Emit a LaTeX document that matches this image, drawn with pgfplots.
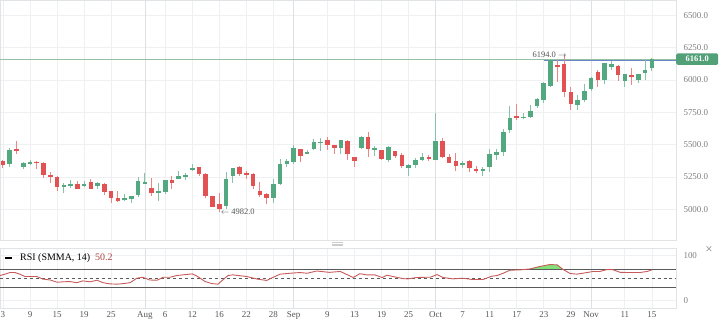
\documentclass[border=0pt]{standalone}
\usepackage{fontspec}
\setmainfont{Liberation Serif}
\usepackage{pgfplots}
\usepackage{pgfplotstable}
\pgfplotsset{compat=1.18}
\definecolor{cup}{RGB}{83,168,128}
\definecolor{cdn}{RGB}{226,82,82}
\definecolor{gridc}{RGB}{238,240,242}
\definecolor{gridm}{RGB}{222,225,228}
\definecolor{framec}{RGB}{225,228,231}
\definecolor{tickc}{RGB}{128,128,128}
\definecolor{dayc}{RGB}{85,85,85}
\definecolor{pricebox}{RGB}{82,160,120}
\definecolor{pricel}{RGB}{150,192,162}
\definecolor{bluel}{RGB}{105,135,200}
\definecolor{rsic}{RGB}{200,90,90}
\definecolor{rsiv}{RGB}{176,64,62}
\definecolor{rsig}{RGB}{130,225,120}
\definecolor{lvl}{RGB}{90,90,90}

\pgfplotstableread{
x o h l c
1 5347 5471 5329 5458
3 5324 5368 5309 5355
4 5352 5379 5344 5368
9 5172 5200 5123 5185
10 5180 5226 5166 5198
12 5180 5221 5174 5195
14 5180 5210 5159 5200
18 5071 5115 5063 5087
19 5079 5105 5050 5100
20 5108 5252 5097 5218
21 5200 5283 5193 5213
23 5131 5200 5063 5141
24 5133 5226 5115 5226
26 5234 5293 5234 5260
27 5252 5283 5226 5262
28 5303 5347 5293 5316
33 5025 5290 5000 5234
34 5260 5317 5200 5317
40 5090 5234 5050 5193
41 5197 5389 5187 5350
42 5352 5389 5327 5373
43 5363 5497 5352 5471
45 5430 5461 5425 5443
46 5466 5543 5458 5520
47 5515 5549 5453 5523
50 5471 5538 5430 5533
53 5476 5567 5464 5556
55 5461 5487 5414 5471
57 5383 5487 5368 5484
60 5319 5347 5260 5342
61 5340 5394 5321 5381
62 5379 5433 5371 5404
64 5381 5745 5381 5526
68 5342 5376 5317 5360
71 5298 5329 5260 5311
72 5329 5464 5290 5425
73 5420 5466 5381 5445
74 5443 5621 5412 5595
75 5613 5799 5588 5708
77 5708 5742 5698 5716
78 5716 5806 5708 5762
79 5799 5858 5781 5853
80 5845 5982 5820 5974
81 5954 6160 5948 6155
85 5806 5884 5768 5845
86 5845 5969 5827 5915
87 5930 6026 5917 6013
89 6000 6129 5967 6129
90 6103 6147 6077 6124
92 5992 6044 5948 6044
94 6000 6044 5974 6044
95 6057 6163 6000 6077
96 6090 6168 6070 6161
}\up

\pgfplotstableread{
x o h l c
0 5373 5381 5319 5340
2 5466 5528 5425 5456
5 5365 5371 5309 5360
6 5360 5365 5244 5262
7 5265 5286 5205 5252
8 5252 5255 5143 5174
11 5193 5218 5159 5159
13 5210 5231 5159 5159
15 5193 5200 5110 5133
16 5143 5143 5050 5089
17 5087 5143 5056 5063
22 5164 5239 5102 5123
25 5226 5254 5159 5205
29 5327 5327 5255 5272
30 5272 5280 5089 5102
31 5102 5102 5015 5019
32 5040 5128 4982 5000
35 5324 5337 5260 5272
36 5283 5293 5234 5270
37 5275 5283 5156 5182
38 5141 5208 5094 5110
39 5115 5123 5038 5084
44 5466 5466 5368 5414
48 5536 5559 5456 5494
49 5497 5497 5425 5471
51 5525 5533 5381 5427
52 5402 5402 5329 5376
54 5559 5595 5404 5466
56 5456 5458 5379 5389
58 5448 5453 5394 5414
59 5422 5433 5317 5332
63 5404 5420 5376 5386
65 5526 5554 5400 5402
66 5407 5430 5355 5360
67 5373 5433 5296 5334
69 5373 5381 5288 5317
70 5309 5334 5278 5298
76 5724 5812 5690 5708
82 6116 6155 5987 6103
83 6124 6194 5871 5910
84 5910 5944 5768 5812
88 6062 6077 5948 6000
91 6111 6116 5992 6039
93 6039 6091 5961 6029
}\dn

\pgfplotstableread{
x r
-0.44 56
0.3 59
1.04 62.6
1.78 62.6
2.5 59
3.25 53.7
4 53.7
5 53.7
5.9 48
7 46
8 41
8.9 42
9.9 42.6
10.9 40
11.8 44
12.9 42
13.9 45.5
14.8 40
15.8 37.4
16.9 36.7
17.8 38
18.8 40
19.8 50
20.7 52
21.7 46
22.8 45.5
23.7 52
24.7 52
25.7 56
26.6 57.4
28 59.6
28.8 53.7
29.9 42.6
30.9 38
31.8 36.7
32.5 46
33.3 56
34 57.4
36.1 53.7
37.6 48
39 45
39.9 51.5
41 59
42.5 61
43.9 62.6
45 61
46.4 66
48.3 63
49.9 65
51.8 51.5
52.8 60
53.8 57.4
55 57.4
56.1 51.5
56.8 56.7
57.7 53.7
59.2 49
59.9 48.5
61.2 51.5
62.4 52
63.2 52
64.2 58
65.1 51.5
66.6 48.5
68 50
69.5 47
71 47
72.3 54.4
73.1 56
74 61
75 67.8
76.5 68.5
78 70.7
79.4 76
80.9 80.4
82 79.6
82.8 70
83.9 60.4
84.9 59
86.4 62.6
87.3 65
88.3 65
89.3 69
90.2 69
91.3 63
92.8 62.6
94.2 62.6
95.3 65
96 68.5
}\rsi

\begin{document}
\begin{tikzpicture}
\path[use as bounding box] (0,0) rectangle (719bp,-327bp);

\begin{axis}[
  at={(0,0)}, anchor=north west, scale only axis,
  width=676bp, height=240bp,
  xmin=-0.44, xmax=99.56, ymin=4762, ymax=6619,
  axis line style={draw=framec},
  xtick={0,4,8,12,16,24,28,32,36,40,48,52,56,60,68,72,76,80,84,92,96},
  xticklabels={},
  extra x ticks={21,43,64,87}, extra x tick labels={},
  extra x tick style={grid style={draw=gridm, line width=0.8bp}},
  ytick={5000,5250,5500,5750,6000,6250,6500},
  yticklabel pos=right,
  xmajorgrids, ymajorgrids,
  grid style={draw=gridc, line width=0.8bp},
  major tick length=0pt,
  yticklabel style={font=\fontsize{9}{9}\selectfont, text=tickc, xshift=4bp},
  /pgf/number format/fixed, /pgf/number format/fixed zerofill,
  /pgf/number format/precision=1, /pgf/number format/1000 sep={},
  /pgf/number format/assume math mode=true,
  clip mode=individual,
]
\addplot[pricel, line width=1bp, forget plot] coordinates {(-0.44,6161) (99.56,6161)};
\addplot[bluel, line width=0.8bp, forget plot] coordinates {(80,6149) (99.56,6149)};
% wicks
\addplot[draw=none, mark=none, forget plot,
  error bars/.cd, y dir=both, y explicit, error mark=none,
  error bar style={draw=cup!70, line width=1bp}]
  table[x=x, y expr={(\thisrow{h}+\thisrow{l})/2}, y error expr={(\thisrow{h}-\thisrow{l})/2}] {\up};
\addplot[draw=none, mark=none, forget plot,
  error bars/.cd, y dir=both, y explicit, error mark=none,
  error bar style={draw=cdn!70, line width=1bp}]
  table[x=x, y expr={(\thisrow{h}+\thisrow{l})/2}, y error expr={(\thisrow{h}-\thisrow{l})/2}] {\dn};
% bodies
\addplot[draw=none, mark=none, forget plot,
  error bars/.cd, y dir=both, y explicit, error mark=none,
  error bar style={draw=cup, line width=4.6bp}]
  table[x=x, y expr={(\thisrow{o}+\thisrow{c})/2}, y error expr={max(abs(\thisrow{c}-\thisrow{o})/2,4)}] {\up};
\addplot[draw=none, mark=none, forget plot,
  error bars/.cd, y dir=both, y explicit, error mark=none,
  error bar style={draw=cdn, line width=4.6bp}]
  table[x=x, y expr={(\thisrow{o}+\thisrow{c})/2}, y error expr={max(abs(\thisrow{c}-\thisrow{o})/2,4)}] {\dn};

\node[anchor=east, text=dayc, font=\fontsize{8.5}{8.5}\selectfont, inner sep=0pt] at (axis cs:83.4,6194) {6194.0 $\rightarrow$};
\node[anchor=west, text=dayc, font=\fontsize{8.5}{8.5}\selectfont, inner sep=0pt] at (axis cs:32.2,4982) {$\leftarrow$ 4982.0};
\node[anchor=west, fill=pricebox, text=white, font=\bfseries\fontsize{8.5}{8.5}\selectfont,
  minimum height=11.5bp, minimum width=42bp, inner sep=1bp, rounded corners=1.5bp] at (axis cs:99.56,6161) {6161.0};
\end{axis}

\begin{axis}[
  at={(0,-247.7bp)}, anchor=north west, scale only axis,
  width=676bp, height=60bp,
  xmin=-0.44, xmax=99.56, ymin=-15.6, ymax=117.8,
  axis line style={draw=framec},
  xtick={0,4,8,12,16,24,28,32,36,40,48,52,56,60,68,72,76,80,84,92,96},
  xticklabels={3,9,15,19,25,6,12,16,22,28,9,13,19,25,7,11,17,23,29,11,15},
  extra x ticks={21,43,64,87}, extra x tick labels={Aug,Sep,Oct,Nov},
  extra x tick style={grid style={draw=gridm, line width=0.8bp},
     tick label style={font=\bfseries\fontsize{9}{9}\selectfont, text=black}},
  xticklabel style={font=\fontsize{9}{9}\selectfont, text=dayc},
  ytick={0,100},
  yticklabel pos=right,
  yticklabel style={font=\fontsize{9}{9}\selectfont, text=tickc, xshift=4bp},
  /pgf/number format/assume math mode=true,
  xmajorgrids, ymajorgrids,
  grid style={draw=gridc, line width=0.8bp},
  major tick length=0pt,
]
\addplot[fill=rsig, draw=none, forget plot] coordinates {(77.6,70) (78,70.7) (79.4,76) (80.9,80.4) (82,79.6) (82.8,70)} -- cycle;
\addplot[lvl, line width=0.9bp, forget plot] coordinates {(-0.44,70) (99.56,70)};
\addplot[lvl, line width=0.9bp, forget plot] coordinates {(-0.44,30) (99.56,30)};
\addplot[lvl, line width=0.8bp, dashed, forget plot] coordinates {(-0.44,50) (99.56,50)};
\addplot[rsic, line width=0.9bp, forget plot] table[x=x, y=r] {\rsi};
\end{axis}

\draw[black, line width=1.8bp] (5bp,-258bp) -- (12bp,-258bp);
\node[anchor=west, inner sep=0pt, font=\fontsize{10}{10}\selectfont] at (20bp,-258bp) {RSI (SMMA, 14)\hspace{5bp}\textcolor{rsiv}{50.2}};
\node[text=tickc, font=\fontsize{13}{13}\selectfont, inner sep=0pt] at (709bp,-250bp) {×};
\foreach \yy in {-242bp,-243.8bp,-245.6bp}
  \draw[gray!40, line width=0.6bp] (332bp,\yy) -- (343bp,\yy);
\end{tikzpicture}
\end{document}
